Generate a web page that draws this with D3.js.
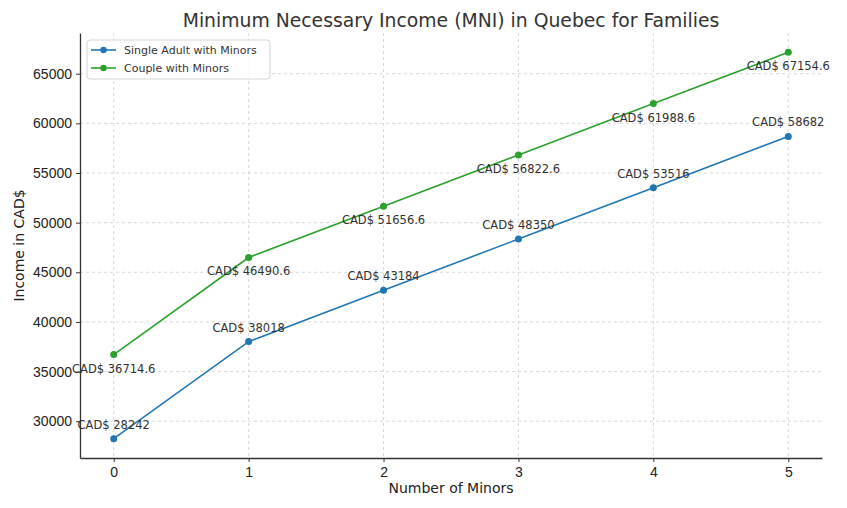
<!DOCTYPE html>
<html>
<head>
<meta charset="utf-8">
<script src="https://cdn.jsdelivr.net/npm/d3@7"></script>
<style>
  body { margin: 0; background: #fff; }
  svg { display: block; font-family: "DejaVu Sans", sans-serif; }
</style>
</head>
<body>
<svg id="chart"></svg>
<script>
// data
const minors = [0, 1, 2, 3, 4, 5];
const singleAdult = [28242, 38018, 43184, 48350, 53516, 58682];
const couple = [36714.6, 46490.6, 51656.6, 56822.6, 61988.6, 67154.6];
const yTicks = [30000, 35000, 40000, 45000, 50000, 55000, 60000, 65000];

const series = [
  { name: "Single Adult with Minors", values: singleAdult, color: "#1f77b4", labelDy: -10 },
  { name: "Couple with Minors", values: couple, color: "#2ca02c", labelDy: 18 }
];

const width = 847, height = 508;
const margin = { top: 33, right: 25, bottom: 50, left: 80 };

const svg = d3.select("#chart").attr("width", width).attr("height", height);

// matplotlib-like 5% margins
const allVals = singleAdult.concat(couple);
const yMin = d3.min(allVals), yMax = d3.max(allVals);
const yPad = (yMax - yMin) * 0.05;

const x = d3.scaleLinear().domain([-0.25, 5.25]).range([margin.left, width - margin.right]);
const y = d3.scaleLinear().domain([yMin - yPad, yMax + yPad]).range([height - margin.bottom, margin.top]);

// grid
const grid = svg.append("g");
grid.selectAll("line.gx").data(minors).enter().append("line")
  .attr("x1", d => x(d)).attr("x2", d => x(d))
  .attr("y1", margin.top).attr("y2", height - margin.bottom)
  .attr("stroke", "#cfcfcf").attr("stroke-width", 0.8).attr("stroke-dasharray", "3,3");
grid.selectAll("line.gy").data(yTicks).enter().append("line")
  .attr("x1", margin.left).attr("x2", width - margin.right)
  .attr("y1", d => y(d)).attr("y2", d => y(d))
  .attr("stroke", "#cfcfcf").attr("stroke-width", 0.8).attr("stroke-dasharray", "3,3");

// axes
const xAxis = svg.append("g")
  .attr("transform", `translate(0,${height - margin.bottom})`)
  .call(d3.axisBottom(x).tickValues(minors).tickFormat(d3.format("d")).tickSize(4).tickPadding(5).tickSizeOuter(0));
const yAxis = svg.append("g")
  .attr("transform", `translate(${margin.left},0)`)
  .call(d3.axisLeft(y).tickValues(yTicks).tickFormat(d3.format("d")).tickSize(4).tickPadding(4).tickSizeOuter(0));

[xAxis, yAxis].forEach(a => {
  a.select(".domain").attr("stroke", "#333").attr("stroke-width", 1.3);
  a.selectAll(".tick line").attr("stroke", "#333");
  a.selectAll(".tick text").attr("fill", "#222").style("font-size", "14px");
});

// axis labels
svg.append("text")
  .attr("x", (margin.left + width - margin.right) / 2).attr("y", 493)
  .attr("text-anchor", "middle").style("font-size", "14px").attr("fill", "#222")
  .text("Number of Minors");
svg.append("text")
  .attr("transform", `translate(24,${(margin.top + height - margin.bottom) / 2}) rotate(-90)`)
  .attr("text-anchor", "middle").style("font-size", "14px").attr("fill", "#222")
  .text("Income in CAD$");

// title
svg.append("text")
  .attr("x", (margin.left + width - margin.right) / 2).attr("y", 27)
  .attr("text-anchor", "middle").style("font-size", "18.8px").attr("fill", "#333")
  .text("Minimum Necessary Income (MNI) in Quebec for Families");

// lines, markers, annotations
const line = d3.line().x((d, i) => x(minors[i])).y(d => y(d));

series.forEach(s => {
  const g = svg.append("g");
  g.append("path")
    .datum(s.values)
    .attr("d", line)
    .attr("fill", "none")
    .attr("stroke", s.color)
    .attr("stroke-width", 1.6);
  g.selectAll("circle").data(s.values).enter().append("circle")
    .attr("cx", (d, i) => x(minors[i])).attr("cy", d => y(d))
    .attr("r", 3.5).attr("fill", s.color);
  g.selectAll("text").data(s.values).enter().append("text")
    .attr("x", (d, i) => x(minors[i])).attr("y", d => y(d) + s.labelDy)
    .attr("text-anchor", "middle").style("font-size", "11.5px").attr("fill", "#333")
    .text(d => `CAD$ ${d}`);
});

// legend
const legend = svg.append("g").attr("transform", `translate(${margin.left + 7},${margin.top + 7})`);
legend.append("rect")
  .attr("width", 183).attr("height", 39).attr("rx", 3)
  .attr("fill", "rgba(255,255,255,0.8)").attr("stroke", "#d5d5d5");
series.forEach((s, i) => {
  const row = legend.append("g").attr("transform", `translate(0,${10 + i * 18})`);
  row.append("line").attr("x1", 4).attr("x2", 29).attr("stroke", s.color).attr("stroke-width", 1.6);
  row.append("circle").attr("cx", 16.5).attr("r", 3.2).attr("fill", s.color);
  row.append("text").attr("x", 37).attr("y", 4).style("font-size", "11px").attr("fill", "#333").text(s.name);
});
</script>
</body>
</html>
